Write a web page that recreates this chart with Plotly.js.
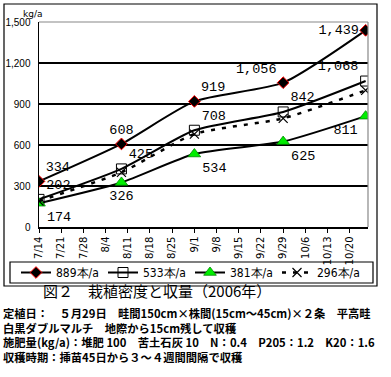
<!DOCTYPE html>
<html>
<head>
<meta charset="utf-8">
<script src="https://cdn.plot.ly/plotly-3.0.1.min.js"></script>
<style>html,body{margin:0;padding:0;background:#fff;}#chart{width:391px;height:377px;}</style>
</head>
<body>
<div id="chart"></div>
<script>
const dates = ['2006-07-14', '2006-08-09', '2006-09-01', '2006-09-29', '2006-10-25'];
const y889 = [334, 608, 919, 1056, 1439];
const y533 = [202, 425, 708, 842, 1068];
const y381 = [174, 326, 534, 625, 811];
const y296 = [190, 400, 680, 795, 1000];
const names = ['889本/a', '533本/a', '381本/a', '296本/a'];
const yTicks = [0, 300, 600, 900, 1200, 1500];
const caption = '図２　栽植密度と収量（2006年）';
const notes = [
  '定植日：　５月29日　畦間150cm×株間(15cm～45cm)×２条　平高畦',
  '白黒ダブルマルチ　地際から15cm残して収穫',
  '施肥量(kg/a)：堆肥 100　苦土石灰 10　N：0.4　P205：1.2　K20：1.6',
  '収穫時期：挿苗45日から３～４週間間隔で収穫'
];

const fmt = v => v.toLocaleString('en-US');
const lblFont = {family: 'Liberation Mono, DejaVu Sans Mono, monospace', size: 13.5, color: '#000'};

const traces = [
  {
    x: dates, y: y889, name: names[0], mode: 'lines+markers+text',
    text: y889.map(fmt), textfont: lblFont,
    textposition: ['top right', 'top center', 'top right', 'top left', 'middle left'],
    line: {color: '#000', width: 2, shape: 'spline', smoothing: 0.6},
    marker: {symbol: 'diamond', size: 9, color: '#000', line: {color: '#ff0000', width: 1}}
  },
  {
    x: dates, y: y533, name: names[1], mode: 'lines+markers+text',
    text: y533.map(fmt), textfont: lblFont,
    textposition: ['top right', 'top right', 'top right', 'top right', 'top left'],
    line: {color: '#000', width: 2, shape: 'spline', smoothing: 0.6},
    marker: {symbol: 'square', size: 10, color: 'rgba(255,255,255,0)', line: {color: '#000', width: 1}}
  },
  {
    x: dates, y: y381, name: names[2], mode: 'lines+markers+text',
    text: y381.map(fmt), textfont: lblFont,
    textposition: ['bottom right', 'bottom center', 'bottom right', 'bottom right', 'bottom left'],
    line: {color: '#000', width: 2, shape: 'spline', smoothing: 0.6},
    marker: {symbol: 'triangle-up', size: 11, color: '#00ee00', line: {color: '#008800', width: 0.8}}
  },
  {
    x: dates, y: y296, name: names[3], mode: 'lines+markers',
    line: {color: '#000', width: 2.5, dash: '4px,7px', shape: 'spline', smoothing: 0.6},
    marker: {symbol: 'x-thin-open', size: 9, color: '#000', line: {color: '#000', width: 1.2}}
  }
];

const L = 39, R = 368, T = 22, B = 227;
const px = v => (v - L) / (R - L);
const py = v => (B - v) / (B - T);

const annotations = [
  {text: 'kg/a', x: px(22), y: py(8), xref: 'paper', yref: 'paper', showarrow: false, borderpad: 0,
   font: {family: 'DejaVu Sans, sans-serif', size: 9, color: '#000'}},
  {text: caption, x: px(157), y: py(303), xref: 'paper', yref: 'paper', showarrow: false,
   font: {family: 'Noto Sans CJK JP, sans-serif', size: 15, color: '#000'}},
  {text: notes.join('<br>'), x: px(2), y: py(334.5), xref: 'paper', yref: 'paper',
   xanchor: 'left', yanchor: 'middle', align: 'left', showarrow: false, borderpad: 0,
   font: {family: 'Noto Sans CJK JP, sans-serif', size: 11.3, color: '#000', weight: 'bold'}}
];

const shapes = [
  {type: 'rect', xref: 'paper', yref: 'paper', x0: px(4), x1: px(377), y0: py(286), y1: py(4),
   line: {color: '#000', width: 1.2}, fillcolor: 'rgba(0,0,0,0)', layer: 'below'},
  {type: 'rect', xref: 'paper', yref: 'paper', x0: px(10), x1: px(373), y0: py(283), y1: py(262),
   line: {color: '#000', width: 1.2}, fillcolor: 'rgba(0,0,0,0)', layer: 'below'},
  {type: 'line', xref: 'paper', yref: 'paper', x0: 0, x1: 1, y0: 1, y1: 1, line: {color: '#888', width: 1.2}, layer: 'above'},
  {type: 'line', xref: 'paper', yref: 'paper', x0: 1, x1: 1, y0: 0, y1: 1, line: {color: '#888', width: 1.2}, layer: 'above'}
];

const layout = {
  width: 391, height: 377,
  margin: {l: L, r: 391 - R, t: T, b: 377 - B},
  paper_bgcolor: '#fff', plot_bgcolor: '#fff',
  showlegend: true,
  legend: {orientation: 'h', x: px(16), y: py(272.5), xanchor: 'left', yanchor: 'middle',
    entrywidth: 42, itemwidth: 30, traceorder: 'normal',
    font: {family: 'DejaVu Sans Condensed, sans-serif', size: 12, color: '#000'},
    bgcolor: 'rgba(0,0,0,0)', borderwidth: 0},
  xaxis: {type: 'date', range: ['2006-07-14', '2006-10-25 18:00'],
    tick0: '2006-07-14', dtick: 7 * 86400000, tickformat: '%-m/%-d', tickangle: -90,
    ticks: 'outside', ticklen: 4, tickcolor: '#000', showgrid: false, zeroline: false,
    showline: true, linecolor: '#000', linewidth: 1.5,
    tickfont: {family: 'DejaVu Sans, sans-serif', size: 10, color: '#000'}},
  yaxis: {range: [0, 1500], tickvals: yTicks, ticktext: yTicks.map(fmt),
    showgrid: true, gridcolor: '#000', gridwidth: 1.2, zeroline: false,
    showline: true, linecolor: '#000', linewidth: 1.5, ticks: '', ticklabelstandoff: 5,
    tickfont: {family: 'Liberation Sans, sans-serif', size: 10, color: '#000'}},
  annotations: annotations,
  shapes: shapes
};

Plotly.newPlot('chart', traces, layout, {displayModeBar: false, staticPlot: true});
</script>
</body>
</html>
